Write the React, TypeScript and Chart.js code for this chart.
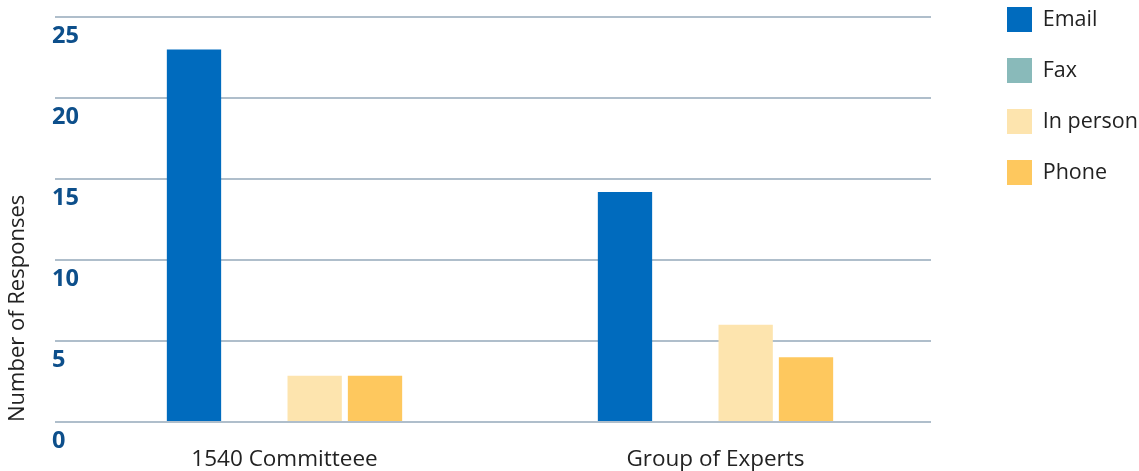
import { useEffect, useRef } from 'react';
import { Chart, registerables } from 'chart.js';

Chart.register(...registerables);

const categories = ['1540 Committeee', 'Group of Experts'];
const seriesNames = ['Email', 'Fax', 'In person', 'Phone'];
const emailValues = [23, 14.2];
const faxValues = [0, 0];
const inPersonValues = [2.85, 6];
const phoneValues = [2.85, 4];
const yTickValues = [0, 5, 10, 15, 20, 25];
const yAxisTitle = 'Number of Responses';

const seriesColors = ['#006bbe', '#89baba', '#fde4ae', '#fec85e'];
const FONT = "'Open Sans', sans-serif";

export default function App() {
  const canvasRef = useRef<HTMLCanvasElement | null>(null);

  useEffect(() => {
    document.body.style.margin = '0';
    const canvas = canvasRef.current;
    if (!canvas) return;
    const values = [emailValues, faxValues, inPersonValues, phoneValues];
    const chart = new Chart(canvas, {
      type: 'bar',
      data: {
        labels: categories,
        datasets: seriesNames.map((name, i) => ({
          label: name,
          data: values[i],
          backgroundColor: seriesColors[i],
          borderWidth: 0,
          categoryPercentage: 0.56,
          barPercentage: 0.9,
        })),
      },
      options: {
        responsive: false,
        animation: false,
        devicePixelRatio: 1,
        layout: { padding: { top: -19, left: 0, right: 0, bottom: 0 } },
        plugins: {
          tooltip: { enabled: false },
          legend: {
            position: 'right',
            align: 'start',
            maxWidth: 158,
            labels: {
              boxWidth: 25,
              boxHeight: 25,
              padding: 26,
              color: '#222222',
              font: { family: FONT, size: 21.5 },
            },
          },
        },
        scales: {
          x: {
            type: 'category',
            position: 'bottom',
            grid: { display: false, drawTicks: false },
            border: { display: false },
            ticks: {
              color: '#222222',
              padding: 24,
              font: { family: FONT, size: 22.5 },
            },
            afterFit: (s: any) => {
              s.height = 49;
            },
          },
          x2: {
            type: 'category',
            position: 'top',
            display: true,
            grid: { display: false, drawTicks: false },
            border: { display: false },
            ticks: { display: false },
            afterFit: (s: any) => {
              s.height = 36;
            },
          },
          y: {
            type: 'linear',
            position: 'left',
            min: 0,
            max: 25,
            afterBuildTicks: (s: any) => {
              s.ticks = yTickValues.map((v) => ({ value: v }));
            },
            grid: {
              color: '#afbecb',
              lineWidth: 2,
              drawTicks: true,
              tickLength: 14,
            },
            border: { display: false },
            ticks: {
              mirror: true,
              padding: -17,
              labelOffset: 19,
              color: '#0d4f8b',
              font: { family: FONT, size: 23.5, weight: 'bold' },
            },
            title: {
              display: true,
              text: yAxisTitle,
              align: 'start',
              color: '#222222',
              font: { family: FONT, size: 22 },
              padding: { top: 5, bottom: 0 },
            },
            afterFit: (s: any) => {
              s.width = 69;
            },
          },
          y2: {
            type: 'linear',
            position: 'right',
            display: true,
            grid: { display: false, drawTicks: false },
            border: { display: false },
            ticks: { display: false },
            afterFit: (s: any) => {
              s.width = 50;
            },
          },
        },
      } as any,
    });
    return () => chart.destroy();
  }, []);

  return (
    <div style={{ width: 1139, height: 471, position: 'relative' }}>
      <canvas ref={canvasRef} width={1139} height={471} style={{ display: 'block' }} />
    </div>
  );
}
